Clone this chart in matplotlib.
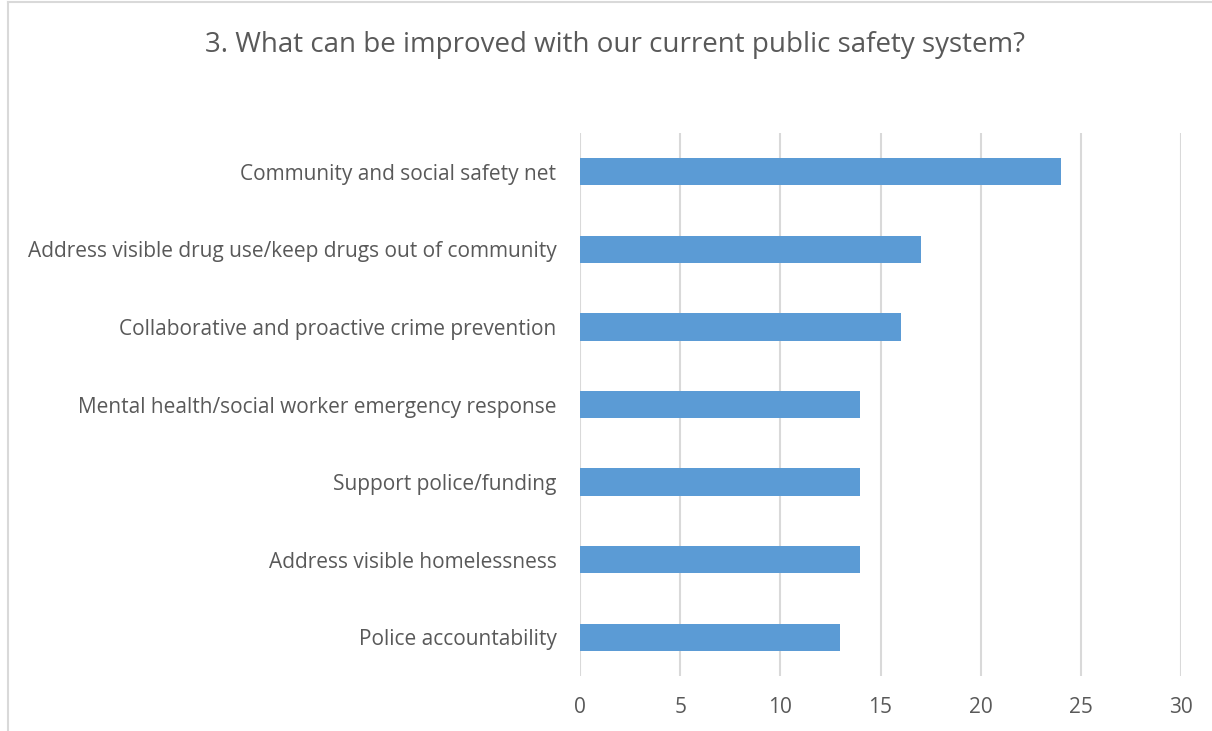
import matplotlib.pyplot as plt
from matplotlib.lines import Line2D

categories = [
    "Community and social safety net",
    "Address visible drug use/keep drugs out of community",
    "Collaborative and proactive crime prevention",
    "Mental health/social worker emergency response",
    "Support police/funding",
    "Address visible homelessness",
    "Police accountability",
]
counts = [24, 17, 16, 14, 14, 14, 13]
x_ticks = [0, 5, 10, 15, 20, 25, 30]

plt.rcParams['font.family'] = ['Open Sans', 'DejaVu Sans']
text_color = "#595959"
grid_color = "#D9D9D9"

fig = plt.figure(figsize=(12.12, 7.31), dpi=100)
ax = fig.add_axes([580 / 1212, 1 - 676 / 731, (1181 - 580) / 1212, (676 - 133) / 731])

y = list(range(len(categories)))
ax.barh(y, counts, height=0.35, color="#5B9BD5", zorder=3)
ax.set_ylim(len(categories) - 0.5, -0.5)
ax.set_xlim(0, 30)
ax.set_xticks(x_ticks)
ax.set_yticks(y)
ax.set_yticklabels(categories)
ax.tick_params(axis="both", length=0, labelsize=15, colors=text_color)
ax.tick_params(axis="y", pad=17)
ax.tick_params(axis="x", pad=15)
ax.grid(axis="x", color=grid_color, linewidth=1.5, zorder=0)
for s in ax.spines.values():
    s.set_visible(False)

fig.text(615 / 1212, 1 - 45 / 731, "3. What can be improved with our current public safety system?",
         ha="center", va="center", fontsize=20, color=text_color)

# chart frame (left and top edges visible)
fig.add_artist(Line2D([8 / 1212, 8 / 1212], [0, 1 - 2 / 731], transform=fig.transFigure,
                      color=grid_color, linewidth=1.5))
fig.add_artist(Line2D([8 / 1212, 1], [1 - 2 / 731, 1 - 2 / 731], transform=fig.transFigure,
                      color=grid_color, linewidth=1.5))

fig.savefig("out.png", dpi=100)
